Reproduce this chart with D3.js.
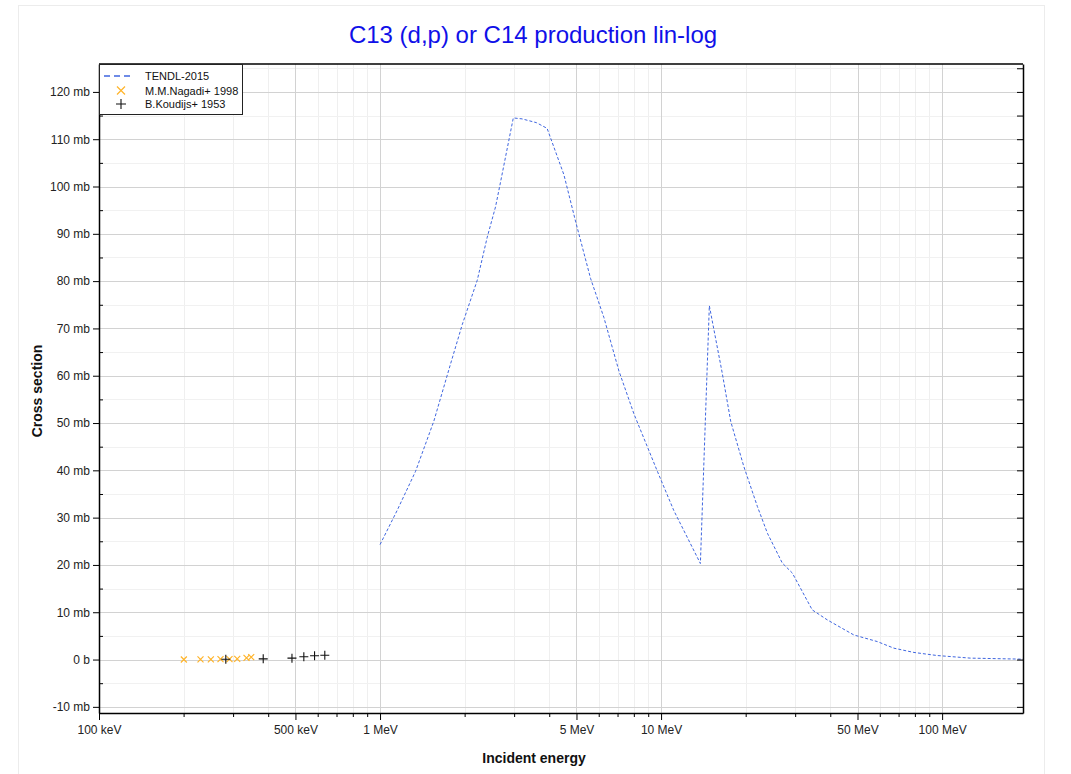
<!DOCTYPE html>
<html>
<head>
<meta charset="utf-8">
<script src="https://cdn.jsdelivr.net/npm/d3@7/dist/d3.min.js"></script>
<style>
  html, body { margin: 0; padding: 0; background: #fff; }
  svg { display: block; font-family: "Liberation Sans", Arial, sans-serif; }
</style>
</head>
<body>
<svg id="chart" width="1071" height="774"></svg>
<script>
// ---- data ----
const titleText = "C13 (d,p) or C14 production lin-log";
const xLabelText = "Incident energy";
const yLabelText = "Cross section";

// TENDL-2015 evaluation (energy in MeV, cross section in mb)
const tendlEnergy = [1.0, 1.15, 1.338, 1.554, 1.782, 1.961, 2.218, 2.407, 2.576, 2.685, 2.98, 3.2, 3.6, 3.93, 4.51, 4.96, 5.61, 6.26, 7.08, 8.01, 9.7, 11.1, 13.8, 14.85, 16.5, 17.7, 19.7, 22.0, 23.9, 27.0, 29.3, 34.5, 39.0, 48.5, 58.8, 67.4, 79.4, 96.0, 126.0, 194.0];
const tendlXS     = [24.3, 31.5, 39.8, 50.4, 62.5, 70.8, 80.2, 89.3, 95.7, 101.0, 114.5, 114.3, 113.5, 112.3, 102.5, 92.7, 80.6, 72.3, 61.0, 51.9, 39.8, 31.5, 20.3, 74.8, 60.6, 50.3, 40.8, 32.4, 26.7, 20.4, 18.3, 10.5, 8.4, 5.2, 3.8, 2.4, 1.5, 0.85, 0.3, 0.08];

// M.M.Nagadi+ 1998
const nagadiEnergy = [0.2004, 0.2297, 0.250, 0.2706, 0.2913, 0.3103, 0.3349, 0.348];
const nagadiXS     = [0.02, 0.03, 0.05, 0.08, 0.10, 0.15, 0.35, 0.50];

// B.Koudijs+ 1953
const koudijsEnergy = [0.2826, 0.384, 0.486, 0.5356, 0.5848, 0.636];
const koudijsXS     = [0.05, 0.15, 0.30, 0.60, 0.80, 0.90];

// axis ticks
const xTickValues = [0.1, 0.5, 1, 5, 10, 50, 100];
const xTickLabels = ["100 keV", "500 keV", "1 MeV", "5 MeV", "10 MeV", "50 MeV", "100 MeV"];
const yTickValues = [-10, 0, 10, 20, 30, 40, 50, 60, 70, 80, 90, 100, 110, 120];
const yTickLabels = ["-10 mb", "0 b", "10 mb", "20 mb", "30 mb", "40 mb", "50 mb", "60 mb", "70 mb", "80 mb", "90 mb", "100 mb", "110 mb", "120 mb"];
const yMinorValues = [-5, 5, 15, 25, 35, 45, 55, 65, 75, 85, 95, 105, 115, 125];

const legendNames = ["TENDL-2015", "M.M.Nagadi+ 1998", "B.Koudijs+ 1953"];

// ---- layout ----
const svg = d3.select("#chart");
const L = 99, R = 1023, T = 64, B = 713;
const x = d3.scaleLog().domain([0.1, 194]).range([L, R]);
const y = d3.scaleLinear().domain([-11.3, 125.9]).range([B, T]);

const lineBlue = "#3f66e0";
const orange = "#ffb42a";

// outer frame
svg.append("rect").attr("x", 18.5).attr("y", 5.5).attr("width", 1026).attr("height", 775)
  .attr("fill", "none").attr("stroke", "#ececec").attr("stroke-width", 1);

// grid
const xMinor = x.ticks().filter(v => !xTickValues.some(t => Math.abs(t - v) / v < 1e-6));
const g = svg.append("g");
g.selectAll(".xm").data(xMinor).join("line")
  .attr("x1", d => Math.round(x(d)) + 0.5).attr("x2", d => Math.round(x(d)) + 0.5)
  .attr("y1", T).attr("y2", B).attr("stroke", "#efefef");
g.selectAll(".ym").data(yMinorValues.filter(v => y(v) > T && y(v) < B)).join("line")
  .attr("x1", L).attr("x2", R)
  .attr("y1", d => Math.round(y(d)) + 0.5).attr("y2", d => Math.round(y(d)) + 0.5)
  .attr("stroke", "#f1f1f1");
g.selectAll(".xM").data(xTickValues).join("line")
  .attr("x1", d => Math.round(x(d)) + 0.5).attr("x2", d => Math.round(x(d)) + 0.5)
  .attr("y1", T).attr("y2", B).attr("stroke", "#d2d2d2");
g.selectAll(".yM").data(yTickValues).join("line")
  .attr("x1", L).attr("x2", R)
  .attr("y1", d => Math.round(y(d)) + 0.5).attr("y2", d => Math.round(y(d)) + 0.5)
  .attr("stroke", "#d2d2d2");

// TENDL line
const tendl = tendlEnergy.map((e, i) => [e, tendlXS[i]]);
svg.append("path").datum(tendl)
  .attr("d", d3.line().x(d => x(d[0])).y(d => y(d[1])))
  .attr("fill", "none").attr("stroke", lineBlue).attr("stroke-width", 1)
  .attr("stroke-dasharray", "3,2");

// Nagadi markers (x)
const nag = nagadiEnergy.map((e, i) => [e, nagadiXS[i]]);
svg.append("g").selectAll("path").data(nag).join("path")
  .attr("transform", d => `translate(${x(d[0])},${y(d[1])})`)
  .attr("d", "M-3,-3L3,3M-3,3L3,-3")
  .attr("stroke", orange).attr("stroke-width", 1.2).attr("fill", "none");

// Koudijs markers (+)
const kou = koudijsEnergy.map((e, i) => [e, koudijsXS[i]]);
svg.append("g").selectAll("path").data(kou).join("path")
  .attr("transform", d => `translate(${x(d[0])},${y(d[1])})`)
  .attr("d", "M-4.5,0L4.5,0M0,-4.5L0,4.5")
  .attr("stroke", "#111").attr("stroke-width", 1.1).attr("fill", "none");

// axes
const xAxis = d3.axisBottom(x).tickValues(xTickValues)
  .tickFormat((d, i) => xTickLabels[i]).tickSize(7).tickSizeOuter(0);
const gx = svg.append("g").attr("transform", `translate(0,${B})`).call(xAxis);
gx.selectAll("text").attr("font-size", 12).attr("fill", "#222").attr("dy", "0.95em")
  .attr("font-family", "'Liberation Sans', Arial, sans-serif");
gx.select(".domain").attr("stroke", "#000").attr("stroke-width", 1.5);
gx.selectAll(".tick line").attr("stroke", "#000");
svg.append("g").attr("transform", `translate(0,${B})`)
  .call(d3.axisBottom(x).tickValues(xMinor).tickFormat("").tickSize(4).tickSizeOuter(0))
  .call(s => s.select(".domain").remove())
  .selectAll("line").attr("stroke", "#000");

const yAxis = d3.axisLeft(y).tickValues(yTickValues)
  .tickFormat((d, i) => yTickLabels[i]).tickSize(6).tickSizeOuter(0);
const gy = svg.append("g").attr("transform", `translate(${L},0)`).call(yAxis);
gy.selectAll("text").attr("font-size", 12).attr("fill", "#222")
  .attr("font-family", "'Liberation Sans', Arial, sans-serif");
gy.select(".domain").attr("stroke", "#000").attr("stroke-width", 1.5);
gy.selectAll(".tick line").attr("stroke", "#000");
svg.append("g").attr("transform", `translate(${L},0)`)
  .call(d3.axisRight(y).tickValues(yMinorValues.filter(v => y(v) > T)).tickFormat("").tickSize(4).tickSizeOuter(0))
  .call(s => s.select(".domain").remove())
  .selectAll("line").attr("stroke", "#000");

// right axis (inward ticks)
const rightVals = yTickValues.concat(yMinorValues).filter(v => y(v) > T);
svg.append("g").attr("transform", `translate(${R},0)`)
  .call(d3.axisLeft(y).tickValues(rightVals).tickFormat("").tickSize(6).tickSizeOuter(0))
  .call(s => s.select(".domain").attr("stroke", "#000").attr("stroke-width", 1.5))
  .selectAll("line").attr("stroke", "#000");
// top border
svg.append("line").attr("x1", L).attr("x2", R).attr("y1", T).attr("y2", T)
  .attr("stroke", "#000").attr("stroke-width", 1.5);

// title and labels
svg.append("text").attr("x", 533).attr("y", 43).attr("text-anchor", "middle")
  .attr("font-size", 24).attr("fill", "#1010e8").text(titleText);
svg.append("text").attr("x", 534).attr("y", 763).attr("text-anchor", "middle")
  .attr("font-size", 14).attr("font-weight", "bold").attr("fill", "#111").text(xLabelText);
svg.append("text").attr("transform", "translate(42,391) rotate(-90)").attr("text-anchor", "middle")
  .attr("font-size", 14).attr("font-weight", "bold").attr("fill", "#111").text(yLabelText);

// legend
const lg = svg.append("g");
lg.append("rect").attr("x", L + 0.5).attr("y", T + 0.5).attr("width", 143).attr("height", 50)
  .attr("fill", "#fff").attr("stroke", "#222").attr("stroke-width", 1);
const rowY = [76, 90.5, 104];
lg.append("line").attr("x1", 104).attr("x2", 131).attr("y1", rowY[0]).attr("y2", rowY[0])
  .attr("stroke", lineBlue).attr("stroke-width", 1.5).attr("stroke-dasharray", "6,4");
lg.append("path").attr("transform", `translate(121,${rowY[1]})`).attr("d", "M-4,-4L4,4M-4,4L4,-4")
  .attr("stroke", orange).attr("stroke-width", 1.2);
lg.append("path").attr("transform", `translate(121,${rowY[2]})`).attr("d", "M-5,0L5,0M0,-5L0,5")
  .attr("stroke", "#111").attr("stroke-width", 1.1);
lg.selectAll("text.lt").data(legendNames).join("text")
  .attr("x", 145).attr("y", (d, i) => rowY[i] + 4).attr("font-size", 11).attr("fill", "#111").text(d => d);
</script>
</body>
</html>
